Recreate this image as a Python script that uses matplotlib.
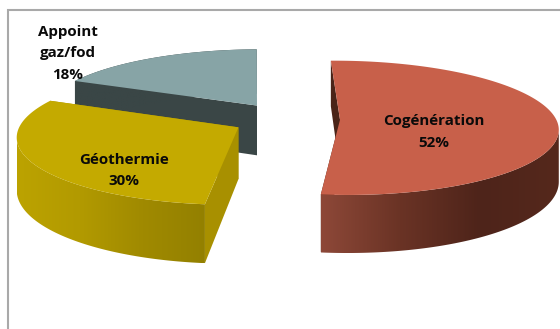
import numpy as np
import matplotlib
matplotlib.use("Agg")
import matplotlib.pyplot as plt
from matplotlib.colors import LinearSegmentedColormap
from matplotlib.patches import Polygon

# Data
labels = ["Cogénération\n52%", "Géothermie\n30%", "Appoint\ngaz/fod\n18%"]
values = [52, 30, 18]

# Style
top_cols = ["#c8604a", "#c4aa00", "#87a4a6"]
wall_stops = [["#8d4838", "#6a3325", "#4e241a", "#55281c"],
              ["#bca300", "#b29a00", "#a08a00", "#938000"],
              ["#3a4646", "#3a4646"]]
radial_cols = [("#4a2418", "#4a2418"), ("#a89000", "#a89000"), ("#3a4646", None)]
label_pos = [(433.5, 132), (123.5, 170.5), (68, 53.5)]
START_ANGLE = 91

# Projection of the exploded, tilted pie onto the picture
X0, Y0, AX, AY, K, EXPL, DEPTH = 286, 119, 216, 66, 0.12, 0.25, 51


def project(X, Y):
    f = 1 / (1 + K * Y)
    return X0 + AX * X * f, Y0 - AY * Y * f, DEPTH * f


fig = plt.figure(figsize=(5.6, 3.29), dpi=100, facecolor="white")
ax = fig.add_axes([0, 0, 1, 1])
ax.set_xlim(0, 560)
ax.set_ylim(329, 0)
ax.set_autoscale_on(False)
ax.axis("off")

ax.plot([8, 8, 560], [329, 10, 10], color="#a9a9a9", lw=1.5, solid_joinstyle="miter", zorder=0)

fr = np.array(values) / sum(values)
ends = START_ANGLE - 360 * np.cumsum(fr)
starts = ends + 360 * fr
z = 1
for i in [2, 1, 0]:
    a0, a1 = np.radians(starts[i]), np.radians(ends[i])
    mid = (a0 + a1) / 2
    cx, cy = EXPL * np.cos(mid), EXPL * np.sin(mid)
    th = np.linspace(a0, a1, 200)
    rx, ry, rd = project(cx + np.cos(th), cy + np.sin(th))
    ax_, ay_, ad_ = project(cx, cy)

    # radial walls
    for (px, py, pd), col in zip([(rx[0], ry[0], rd[0]), (rx[-1], ry[-1], rd[-1])], radial_cols[i]):
        if col is not None:
            ax.fill([ax_, px, px, ax_], [ay_, py, py + pd, ay_ + ad_], color=col, lw=0, zorder=z)
    z += 1

    # curved wall with a horizontal shading, clipped to the front-facing part of the rim
    cmap = LinearSegmentedColormap.from_list("w", wall_stops[i])
    k0, k1 = sorted((int(np.argmax(rx)), int(np.argmin(rx))))
    vx, vy, vd = rx[k0:k1 + 1], ry[k0:k1 + 1], rd[k0:k1 + 1]
    front = vy + vd
    lo, hi = vx.min(), vx.max()
    outline = Polygon(np.c_[np.r_[vx, vx[::-1]], np.r_[vy, front[::-1]]],
                      closed=True, transform=ax.transData, fc="none", ec="none")
    ax.add_patch(outline)
    im = ax.imshow(np.linspace(0, 1, 256)[None, :], cmap=cmap, aspect="auto",
                   extent=(lo, hi, front.max(), vy.min()), zorder=z, interpolation="bilinear")
    im.set_clip_path(outline)
    z += 1

    # top face
    ax.fill(np.r_[ax_, rx], np.r_[ay_, ry], color=top_cols[i], lw=0, zorder=z)
    z += 1

ax.set_xlim(0, 560)
ax.set_ylim(329, 0)

for lab, (x, y) in zip(labels, label_pos):
    ax.text(x, y, lab, ha="center", va="center", family="Open Sans", weight="bold",
            fontsize=10.9, color="#0a0a0a", linespacing=1.7, zorder=50)

fig.savefig("out.png", dpi=100)
